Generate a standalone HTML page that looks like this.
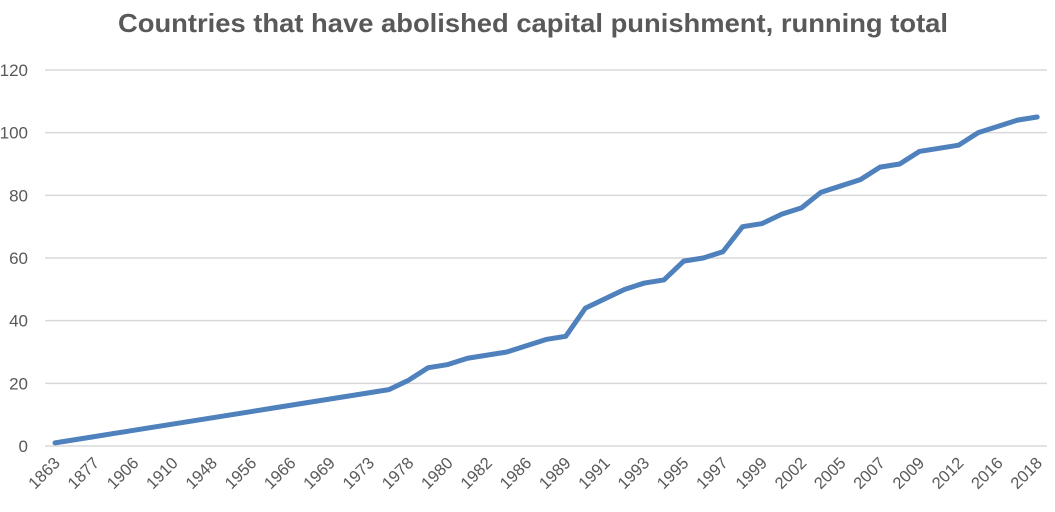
<!DOCTYPE html>
<html><head><meta charset="utf-8"><style>
body{margin:0;background:#fff;font-family:"Liberation Sans",sans-serif;}
svg text{font-family:"Liberation Sans",sans-serif;fill:#595959;}
</style></head><body>
<svg id="chart" width="1055" height="507" viewBox="0 0 1055 507" xmlns="http://www.w3.org/2000/svg">
<text x="533" y="32" text-anchor="middle" font-size="26" font-weight="bold" textLength="830" lengthAdjust="spacingAndGlyphs">Countries that have abolished capital punishment, running total</text>
<g id="grid"></g><g id="ylab"></g><g id="xlab"></g><g id="series"></g>
</svg>
<script>
const categories=["1863","1870","1877","1890","1906","1907","1910","1928","1948","1949","1956","1962","1966","1968","1969","1972","1973","1976","1978","1979","1980","1981","1982","1985","1986","1987","1989","1990","1991","1992","1993","1994","1995","1996","1997","1998","1999","2000","2002","2004","2005","2006","2007","2008","2009","2010","2012","2015","2016","2017","2018"];
const values=[1,2,3,4,5,6,7,8,9,10,11,12,13,14,15,16,17,18,21,25,26,28,29,30,32,34,35,44,47,50,52,53,59,60,62,70,71,74,76,81,83,85,89,90,94,95,96,100,102,104,105];
const yTicks=[0,20,40,60,80,100,120];
const NS="http://www.w3.org/2000/svg";
const L=45.2,R=1047,T=70,B=446,yMax=120;
const band=(R-L)/categories.length;
const xs=i=>L+band*(i+0.5);
const ys=v=>B-(v/yMax)*(B-T);
function mk(tag,attrs,parent){const e=document.createElementNS(NS,tag);for(const k in attrs)e.setAttribute(k,attrs[k]);parent.appendChild(e);return e;}
const grid=document.getElementById('grid'),ylab=document.getElementById('ylab'),xlab=document.getElementById('xlab'),ser=document.getElementById('series');
yTicks.forEach(t=>{
 const g=mk('line',{x1:45,x2:1047,y1:ys(t),y2:ys(t),stroke:'#d9d9d9','stroke-width':1.5},grid);
 
 
 const tx=mk('text',{x:28,y:ys(t)+6,'text-anchor':'end','font-size':17},ylab);
 tx.textContent=t;
 
 
});
categories.forEach((c,i)=>{
 if(i%2)return;
 const x=xs(i)+6,y=464;
 const tx=mk('text',{x:x,y:y,'text-anchor':'end','font-size':16.5,transform:`rotate(-45 ${x} ${y})`},xlab);
 tx.textContent=c;
 
 
});
const p=mk('polyline',{points:values.map((v,i)=>xs(i)+','+ys(v)).join(' '),fill:'none',stroke:'#4f81bd','stroke-width':5,'stroke-linejoin':'round','stroke-linecap':'round'},ser);


</script>
</body></html>
